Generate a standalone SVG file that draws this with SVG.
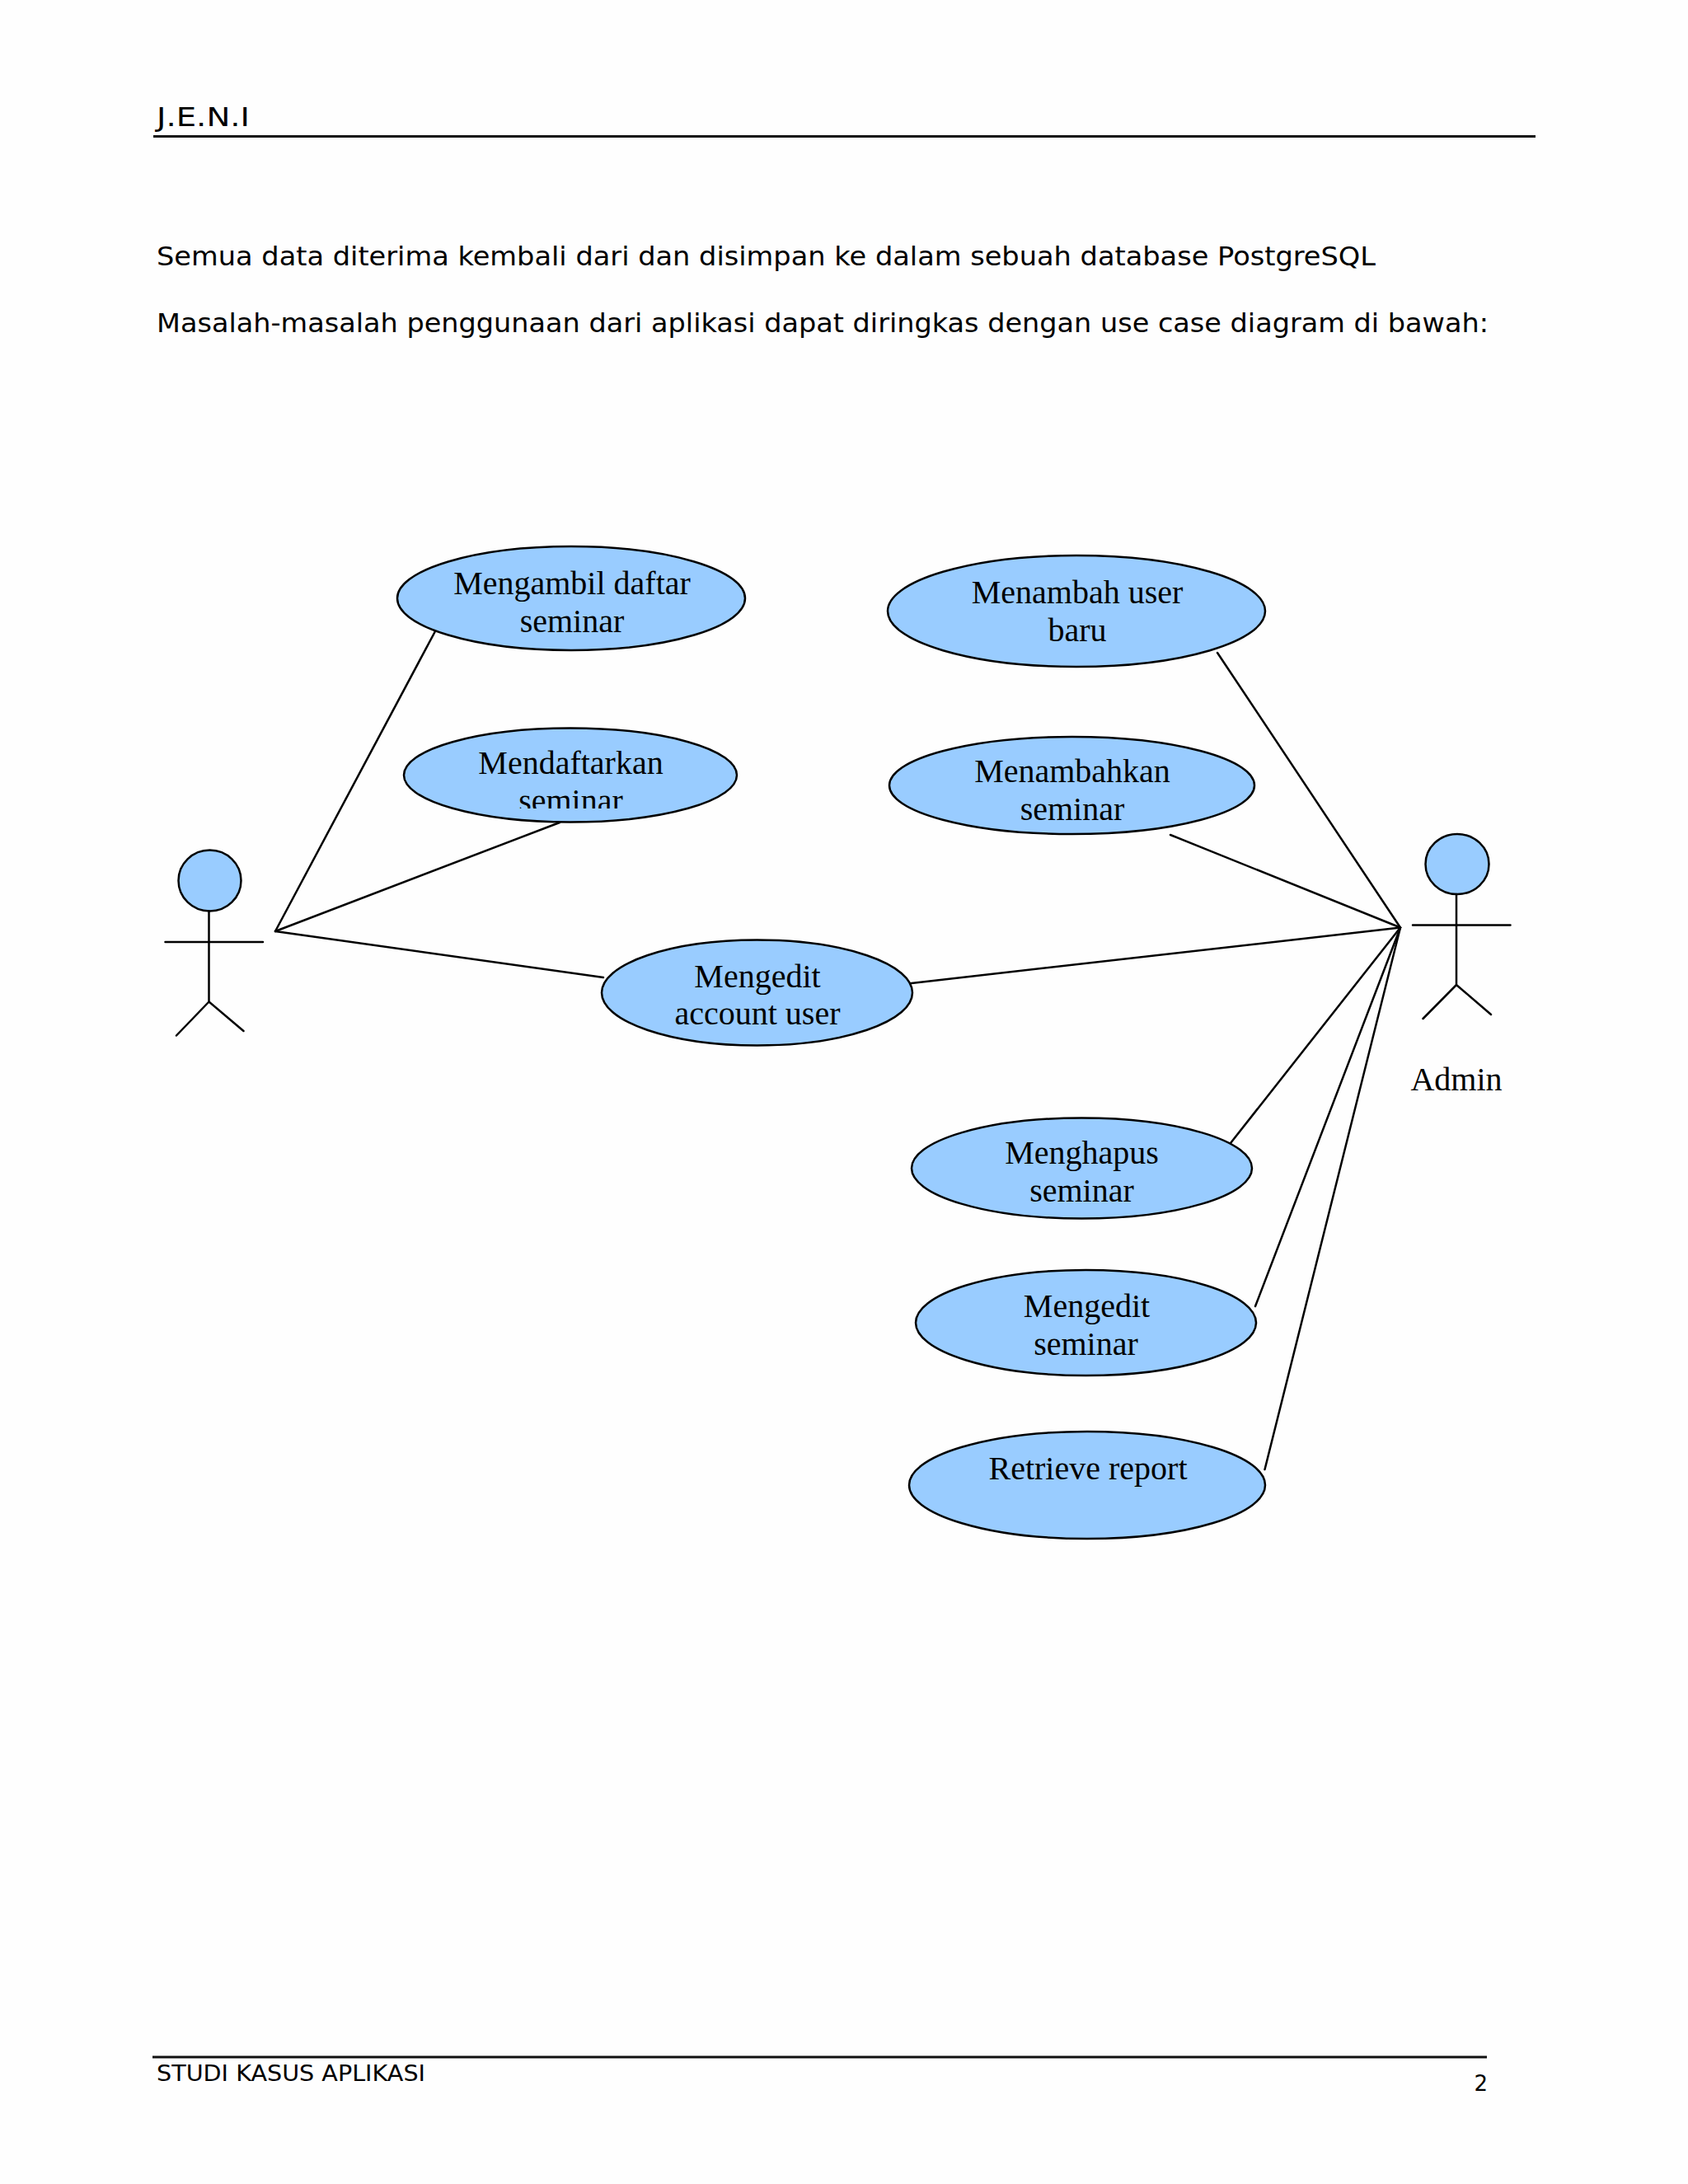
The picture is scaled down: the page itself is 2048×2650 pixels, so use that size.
<svg xmlns="http://www.w3.org/2000/svg" width="2048" height="2650" viewBox="0 0 2048 2650">
<style>
.doc{font-family:"DejaVu Sans","Liberation Sans",sans-serif;fill:#000}
.uc{font-family:"Liberation Serif","Times New Roman",serif;font-size:40px;fill:#000;text-anchor:middle}
.shape{fill:#99ccff;stroke:#000;stroke-width:2.5}
.stick{fill:none;stroke:#000;stroke-width:2.5;stroke-linecap:round}
.rule{stroke:#111;stroke-width:3}
</style>
<defs><clipPath id="clipSeminar"><rect x="560" y="940" width="270" height="41"/></clipPath></defs>
<rect width="2048" height="2650" fill="#fefefe"/>
<g id="page">
<text class="doc" x="190" y="153" font-size="32" textLength="113" lengthAdjust="spacingAndGlyphs">J.E.N.I</text>
<line class="rule" x1="186" y1="165.5" x2="1863" y2="165.5"/>
<text class="doc" x="190" y="322" font-size="32" textLength="1479" lengthAdjust="spacingAndGlyphs">Semua data diterima kembali dari dan disimpan ke dalam sebuah database PostgreSQL</text>
<text class="doc" x="190" y="403" font-size="32" textLength="1616" lengthAdjust="spacingAndGlyphs">Masalah-masalah penggunaan dari aplikasi dapat diringkas dengan use case diagram di bawah:</text>
<line class="rule" x1="185" y1="2496" x2="1804" y2="2496"/>
<text class="doc" x="190" y="2525" font-size="26" textLength="326" lengthAdjust="spacingAndGlyphs">STUDI KASUS APLIKASI</text>
<text class="doc" x="1805" y="2537" font-size="26" text-anchor="end">2</text>
</g>
<g id="connectors" class="stick">
<line x1="334" y1="1130" x2="528" y2="766"/>
<line x1="334" y1="1130" x2="679" y2="998"/>
<line x1="334" y1="1130" x2="732" y2="1186"/>
<line x1="1699" y1="1125.5" x2="1477" y2="792"/>
<line x1="1699" y1="1125.5" x2="1420" y2="1013"/>
<line x1="1699" y1="1125.5" x2="1106" y2="1193"/>
<line x1="1699" y1="1125.5" x2="1493" y2="1387"/>
<line x1="1699" y1="1125.5" x2="1523" y2="1585"/>
<line x1="1699" y1="1125.5" x2="1534.5" y2="1783"/>
</g>
<g id="actor-user">
<ellipse class="shape" cx="254.5" cy="1068.5" rx="38" ry="37"/>
<path class="stick" d="M253.5 1105.5V1215.5M200.5 1143H319M253.5 1215.5L214 1256.5M253.5 1215.5L295.5 1251"/>
</g>
<g id="actor-admin">
<ellipse class="shape" cx="1768" cy="1048.5" rx="38.5" ry="36.5"/>
<path class="stick" d="M1767 1085V1195M1714 1122.5H1832.5M1767 1195L1726.5 1236M1767 1195L1809 1231"/>
<text class="uc" x="1767" y="1323">Admin</text>
</g>
<g id="uc-mengambil">
<ellipse class="shape" cx="693" cy="726" rx="211" ry="63"/>
<text class="uc" x="694" y="720.5">Mengambil daftar</text>
<text class="uc" x="694" y="766.5">seminar</text>
</g>
<g id="uc-mendaftarkan">
<ellipse class="shape" cx="692" cy="940.5" rx="202" ry="57"/>
<text class="uc" x="692.5" y="939">Mendaftarkan</text>
<text class="uc" x="692.5" y="985" clip-path="url(#clipSeminar)">seminar</text>
</g>
<g id="uc-mengedit-account">
<ellipse class="shape" cx="918.5" cy="1204.5" rx="188.5" ry="64"/>
<text class="uc" x="919" y="1197.5">Mengedit</text>
<text class="uc" x="919" y="1243">account user</text>
</g>
<g id="uc-menambah-user">
<ellipse class="shape" cx="1306" cy="741.5" rx="229" ry="67.5"/>
<text class="uc" x="1307" y="732">Menambah user</text>
<text class="uc" x="1307" y="778">baru</text>
</g>
<g id="uc-menambahkan-seminar">
<ellipse class="shape" cx="1300.5" cy="953" rx="221.5" ry="59"/>
<text class="uc" x="1301" y="949">Menambahkan</text>
<text class="uc" x="1301" y="994.5">seminar</text>
</g>
<g id="uc-menghapus">
<ellipse class="shape" cx="1312.5" cy="1417.5" rx="206.5" ry="61"/>
<text class="uc" x="1312.5" y="1412">Menghapus</text>
<text class="uc" x="1312.5" y="1458">seminar</text>
</g>
<g id="uc-mengedit-seminar">
<ellipse class="shape" cx="1317.5" cy="1605" rx="206.5" ry="64"/>
<text class="uc" x="1318.5" y="1598">Mengedit</text>
<text class="uc" x="1317.5" y="1644">seminar</text>
</g>
<g id="uc-retrieve">
<ellipse class="shape" cx="1319" cy="1802" rx="216" ry="65"/>
<text class="uc" x="1320" y="1795">Retrieve report</text>
</g>
</svg>
